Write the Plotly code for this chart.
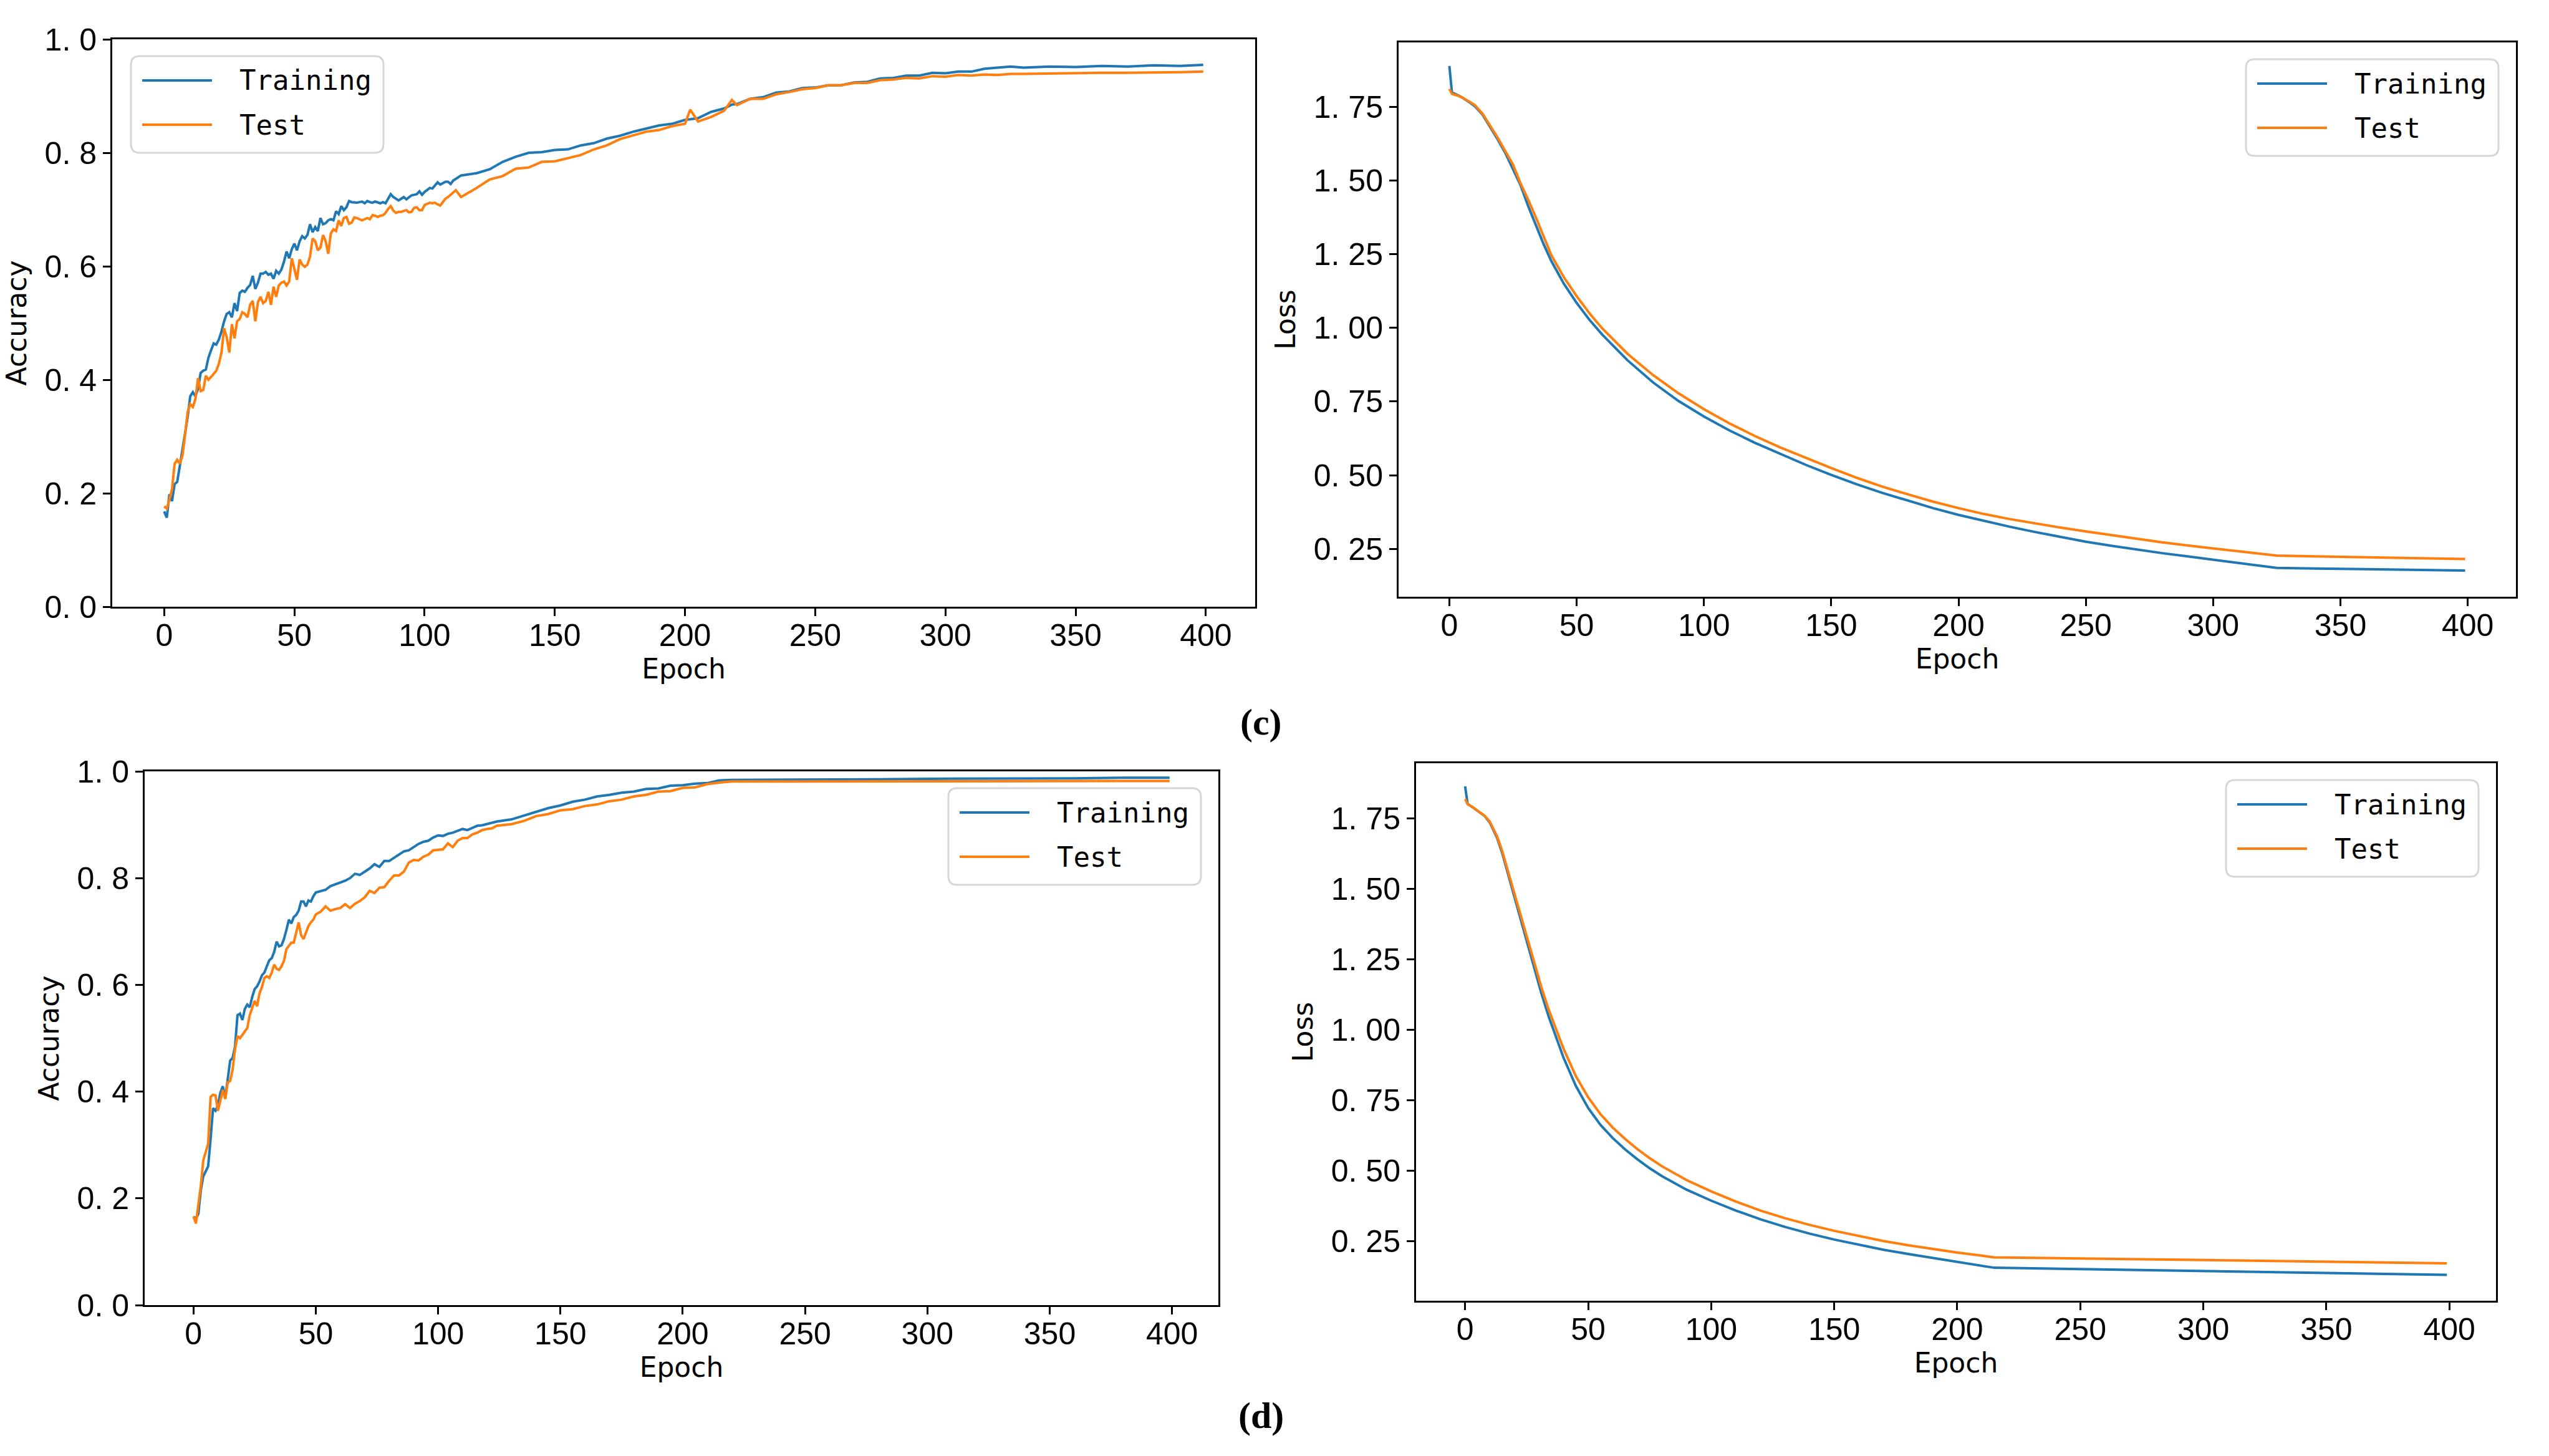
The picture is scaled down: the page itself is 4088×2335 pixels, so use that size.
import plotly.graph_objects as go

W, H = 4088, 2335
BLUE = "#1f77b4"
ORANGE = "#ff7f0e"

# ---------------- (c) accuracy ----------------
acc_c_epoch = list(range(115)) + [
    120, 125, 130, 135, 140, 145, 150, 155, 160, 165,
    170, 175, 180, 185, 190, 195, 200, 202, 205, 210,
    215, 218, 220, 225, 230, 235, 240, 245, 250, 255,
    260, 265, 270, 275, 280, 285, 290, 295, 300, 305,
    310, 315, 320, 325, 330, 340, 350, 360, 370, 380,
    390, 399]
acc_c_train = [
    0.168, 0.157, 0.198, 0.186, 0.216, 0.220, 0.248, 0.275, 0.302, 0.334,
    0.371, 0.378, 0.371, 0.384, 0.412, 0.416, 0.418, 0.439, 0.452, 0.464,
    0.462, 0.471, 0.485, 0.503, 0.516, 0.519, 0.510, 0.535, 0.521, 0.553,
    0.557, 0.555, 0.562, 0.567, 0.583, 0.560, 0.571, 0.587, 0.587, 0.590,
    0.585, 0.587, 0.578, 0.592, 0.587, 0.594, 0.608, 0.626, 0.614, 0.630,
    0.640, 0.628, 0.644, 0.653, 0.649, 0.655, 0.674, 0.660, 0.669, 0.662,
    0.685, 0.674, 0.676, 0.681, 0.683, 0.681, 0.697, 0.692, 0.706, 0.699,
    0.704, 0.715, 0.713, 0.712, 0.712, 0.713, 0.714, 0.711, 0.715, 0.713,
    0.712, 0.714, 0.713, 0.711, 0.713, 0.711, 0.719, 0.727, 0.722, 0.719,
    0.716, 0.719, 0.722, 0.718, 0.721, 0.725, 0.726, 0.727, 0.732, 0.726,
    0.731, 0.734, 0.738, 0.737, 0.742, 0.748, 0.744, 0.747, 0.749, 0.749,
    0.745, 0.751, 0.754, 0.757, 0.760,
    0.764, 0.771, 0.784, 0.793, 0.800, 0.801, 0.805, 0.806, 0.813, 0.817,
    0.825, 0.830, 0.837, 0.842, 0.848, 0.851, 0.858, 0.859, 0.861, 0.872,
    0.878, 0.885, 0.886, 0.895, 0.898, 0.906, 0.908, 0.914, 0.915, 0.919,
    0.919, 0.924, 0.925, 0.931, 0.932, 0.936, 0.936, 0.941, 0.940, 0.943,
    0.943, 0.948, 0.950, 0.952, 0.950, 0.952, 0.951, 0.953, 0.952, 0.954,
    0.953, 0.955]
acc_c_test = [
    0.177, 0.173, 0.189, 0.207, 0.252, 0.259, 0.252, 0.266, 0.302, 0.343,
    0.357, 0.352, 0.366, 0.403, 0.380, 0.382, 0.407, 0.400, 0.405, 0.410,
    0.416, 0.428, 0.448, 0.491, 0.475, 0.448, 0.498, 0.473, 0.503, 0.507,
    0.519, 0.516, 0.510, 0.532, 0.539, 0.503, 0.537, 0.546, 0.535, 0.539,
    0.555, 0.532, 0.564, 0.546, 0.566, 0.571, 0.573, 0.566, 0.573, 0.614,
    0.594, 0.576, 0.612, 0.603, 0.599, 0.603, 0.617, 0.649, 0.644, 0.628,
    0.633, 0.655, 0.644, 0.622, 0.658, 0.665, 0.662, 0.681, 0.671, 0.685,
    0.687, 0.675, 0.677, 0.686, 0.685, 0.683, 0.681, 0.683, 0.685, 0.683,
    0.690, 0.689, 0.687, 0.689, 0.690, 0.694, 0.701, 0.706, 0.698, 0.694,
    0.696, 0.696, 0.698, 0.699, 0.695, 0.696, 0.703, 0.704, 0.699, 0.699,
    0.708, 0.710, 0.712, 0.711, 0.712, 0.709, 0.707, 0.713, 0.719, 0.722,
    0.726, 0.730, 0.734, 0.728, 0.722,
    0.738, 0.753, 0.759, 0.772, 0.774, 0.784, 0.785, 0.791, 0.796, 0.806,
    0.813, 0.824, 0.830, 0.837, 0.840, 0.847, 0.851, 0.876, 0.855, 0.863,
    0.874, 0.893, 0.884, 0.895, 0.895, 0.903, 0.907, 0.912, 0.914, 0.919,
    0.919, 0.923, 0.923, 0.928, 0.929, 0.932, 0.931, 0.935, 0.934, 0.937,
    0.936, 0.938, 0.937, 0.939, 0.939, 0.940, 0.941, 0.941, 0.941, 0.941,
    0.942, 0.943]

# ---------------- (c) loss ----------------
loss_c_epoch = [
    0, 1, 3, 5, 8, 10, 13, 16, 19, 22,
    25, 28, 31, 34, 37, 40, 45, 50, 55, 60,
    70, 80, 90, 100, 110, 120, 130, 140, 150, 160,
    170, 180, 190, 200, 210, 220, 230, 240, 250, 260,
    270, 280, 290, 300, 310, 320, 325, 340, 360, 380,
    399]
loss_c_train = [
    1.890, 1.800, 1.792, 1.783, 1.766, 1.753, 1.725, 1.683, 1.640, 1.594,
    1.540, 1.484, 1.413, 1.350, 1.285, 1.228, 1.150, 1.085, 1.028, 0.978,
    0.890, 0.815, 0.752, 0.699, 0.652, 0.610, 0.572, 0.535, 0.501, 0.469,
    0.440, 0.413, 0.388, 0.365, 0.344, 0.325, 0.307, 0.290, 0.274, 0.260,
    0.247, 0.235, 0.224, 0.213, 0.202, 0.191, 0.185, 0.183, 0.181, 0.178,
    0.176]
loss_c_test = [
    1.812, 1.795, 1.790, 1.783, 1.768, 1.757, 1.728, 1.688, 1.646, 1.600,
    1.555, 1.490, 1.435, 1.375, 1.310, 1.248, 1.172, 1.108, 1.050, 0.999,
    0.912, 0.840, 0.778, 0.724, 0.676, 0.633, 0.594, 0.558, 0.524, 0.491,
    0.461, 0.435, 0.410, 0.388, 0.368, 0.351, 0.336, 0.322, 0.309, 0.296,
    0.284, 0.272, 0.261, 0.251, 0.240, 0.231, 0.227, 0.224, 0.221, 0.218,
    0.215]

# ---------------- (d) accuracy ----------------
acc_d_epoch = list(range(51)) + list(range(52, 125, 2)) + [
    130, 135, 140, 145, 150, 155, 160, 165, 170, 175,
    180, 185, 190, 195, 200, 205, 210, 215,
    220, 240, 260, 280, 300, 320, 340, 360, 380, 399]
acc_d_train = [
    0.166, 0.162, 0.171, 0.215, 0.241, 0.250, 0.260, 0.311, 0.369, 0.364,
    0.374, 0.398, 0.410, 0.388, 0.423, 0.458, 0.463, 0.485, 0.543, 0.546,
    0.534, 0.555, 0.563, 0.558, 0.577, 0.592, 0.597, 0.606, 0.618, 0.623,
    0.635, 0.646, 0.650, 0.662, 0.681, 0.672, 0.674, 0.686, 0.703, 0.722,
    0.715, 0.727, 0.731, 0.739, 0.756, 0.756, 0.747, 0.758, 0.756, 0.766,
    0.773,
    0.776, 0.778, 0.785, 0.788, 0.791, 0.795, 0.800, 0.808, 0.806, 0.812,
    0.818, 0.826, 0.821, 0.832, 0.832, 0.838, 0.844, 0.850, 0.852, 0.858,
    0.864, 0.868, 0.870, 0.876, 0.880, 0.879, 0.883, 0.885, 0.888, 0.892,
    0.890, 0.894, 0.898, 0.899, 0.901, 0.904, 0.906,
    0.910, 0.917, 0.923, 0.931, 0.936, 0.943, 0.947, 0.953, 0.956, 0.960,
    0.962, 0.967, 0.968, 0.973, 0.974, 0.977, 0.978, 0.983,
    0.984, 0.984, 0.985, 0.985, 0.986, 0.986, 0.987, 0.987, 0.988, 0.988]
acc_d_test = [
    0.166, 0.153, 0.188, 0.223, 0.271, 0.287, 0.302, 0.390, 0.394, 0.393,
    0.364, 0.383, 0.403, 0.386, 0.417, 0.420, 0.441, 0.480, 0.504, 0.500,
    0.507, 0.514, 0.519, 0.543, 0.555, 0.570, 0.560, 0.584, 0.596, 0.613,
    0.616, 0.613, 0.623, 0.638, 0.630, 0.628, 0.635, 0.645, 0.667, 0.674,
    0.679, 0.679, 0.698, 0.717, 0.693, 0.686, 0.698, 0.710, 0.717, 0.722,
    0.732,
    0.737, 0.747, 0.739, 0.742, 0.744, 0.751, 0.744, 0.752, 0.757, 0.764,
    0.776, 0.772, 0.782, 0.783, 0.795, 0.805, 0.805, 0.812, 0.829, 0.834,
    0.833, 0.840, 0.844, 0.852, 0.853, 0.854, 0.865, 0.858, 0.870, 0.875,
    0.875, 0.882, 0.885, 0.890, 0.892, 0.893, 0.898,
    0.901, 0.907, 0.916, 0.920, 0.927, 0.929, 0.935, 0.938, 0.944, 0.947,
    0.953, 0.956, 0.962, 0.963, 0.969, 0.970, 0.976, 0.979,
    0.981, 0.981, 0.981, 0.982, 0.982, 0.982, 0.982, 0.982, 0.982, 0.982]

# ---------------- (d) loss ----------------
loss_d_epoch = [
    0, 1, 3, 5, 8, 10, 13, 15, 18, 20,
    23, 25, 28, 31, 34, 37, 40, 45, 50, 55,
    60, 65, 70, 75, 80, 90, 100, 110, 120, 130,
    140, 150, 160, 170, 180, 190, 200, 210, 215, 250,
    300, 350, 399]
loss_d_train = [
    1.863, 1.801, 1.789, 1.777, 1.757, 1.735, 1.680, 1.628, 1.535, 1.470,
    1.380, 1.318, 1.220, 1.128, 1.045, 0.970, 0.900, 0.800, 0.722, 0.662,
    0.615, 0.575, 0.540, 0.508, 0.480, 0.432, 0.393, 0.358, 0.327, 0.300,
    0.276, 0.255, 0.236, 0.219, 0.204, 0.190, 0.177, 0.164, 0.155, 0.150,
    0.143, 0.136, 0.130]
loss_d_test = [
    1.818, 1.800, 1.790, 1.778, 1.758, 1.738, 1.685, 1.635, 1.545, 1.482,
    1.395, 1.335, 1.240, 1.150, 1.070, 0.998, 0.932, 0.835, 0.760, 0.700,
    0.652, 0.612, 0.576, 0.544, 0.515, 0.466, 0.426, 0.390, 0.358, 0.331,
    0.307, 0.286, 0.267, 0.250, 0.235, 0.221, 0.209, 0.198, 0.192, 0.188,
    0.183, 0.177, 0.171]

# tick labels
epoch_ticks = [0, 50, 100, 150, 200, 250, 300, 350, 400]
acc_ticks = [0.0, 0.2, 0.4, 0.6, 0.8, 1.0]
acc_ticktext = ["0. 0", "0. 2", "0. 4", "0. 6", "0. 8", "1. 0"]
loss_ticks = [0.25, 0.50, 0.75, 1.00, 1.25, 1.50, 1.75]
loss_ticktext = ["0. 25", "0. 50", "0. 75", "1. 00", "1. 25", "1. 50", "1. 75"]

TICK_FONT = dict(family="Liberation Sans, Arial, sans-serif", size=50, color="black")
TITLE_FONT = dict(family="DejaVu Sans", size=44, color="black")
LEGEND_FONT = dict(family="DejaVu Sans Mono", size=44, color="black")

# panels: pixel box (left, top, right, bottom), data, axis setup
panels = [
    dict(box=(180, 63, 2013, 973), x=acc_c_epoch, train=acc_c_train, test=acc_c_test,
         ytitle="Accuracy", yrange=[0, 1], yticks=acc_ticks, ytext=acc_ticktext, leg="left"),
    dict(box=(2243, 68, 4035, 957), x=loss_c_epoch, train=loss_c_train, test=loss_c_test,
         ytitle="Loss", yrange=[0.087, 1.97], yticks=loss_ticks, ytext=loss_ticktext, leg="right"),
    dict(box=(232, 1237, 1954, 2093), x=acc_d_epoch, train=acc_d_train, test=acc_d_test,
         ytitle="Accuracy", yrange=[0, 1], yticks=acc_ticks, ytext=acc_ticktext, leg="right"),
    dict(box=(2271, 1224, 4003, 2086), x=loss_d_epoch, train=loss_d_train, test=loss_d_test,
         ytitle="Loss", yrange=[0.038, 1.945], yticks=loss_ticks, ytext=loss_ticktext, leg="right"),
]

fig = go.Figure()
shapes = []
annotations = []


def legend_items(k, box, side):
    left, top, right, bottom = box
    w, h = right - left, bottom - top
    leg_w, leg_h, r = 405, 155, 14
    bx0 = left + 30 if side == "left" else right - 28 - leg_w
    by0 = top + 27

    def fx(px):
        return (px - left) / w

    def fy(py):
        return 1 - (py - top) / h

    xr = "x domain" if k == 1 else f"x{k} domain"
    yr = "y domain" if k == 1 else f"y{k} domain"
    x0, x1 = fx(bx0), fx(bx0 + leg_w)
    y1, y0 = fy(by0), fy(by0 + leg_h)
    rx, ry = r / w, r / h
    path = (f"M{x0 + rx},{y1} L{x1 - rx},{y1} Q{x1},{y1} {x1},{y1 - ry} "
            f"L{x1},{y0 + ry} Q{x1},{y0} {x1 - rx},{y0} L{x0 + rx},{y0} "
            f"Q{x0},{y0} {x0},{y0 + ry} L{x0},{y1 - ry} Q{x0},{y1} {x0 + rx},{y1} Z")
    shapes.append(dict(type="path", path=path, xref=xr, yref=yr,
                       fillcolor="white", line=dict(color="#d6d6d6", width=3)))
    for name, color, dy in [("Training", BLUE, 39), ("Test", ORANGE, 110)]:
        yy = fy(by0 + dy)
        shapes.append(dict(type="line", xref=xr, yref=yr,
                           x0=fx(bx0 + 18), x1=fx(bx0 + 130), y0=yy, y1=yy,
                           line=dict(color=color, width=4)))
        annotations.append(dict(text=name, xref=xr, yref=yr, x=fx(bx0 + 172), y=yy,
                                xanchor="left", yanchor="middle", showarrow=False,
                                font=LEGEND_FONT))


layout_axes = {}
for k, p in enumerate(panels, start=1):
    left, top, right, bottom = p["box"]
    xs = "x" if k == 1 else f"x{k}"
    ys = "y" if k == 1 else f"y{k}"
    fig.add_trace(go.Scatter(x=p["x"], y=p["train"], mode="lines", name="Training",
                             line=dict(color=BLUE, width=4), xaxis=xs, yaxis=ys,
                             showlegend=False))
    fig.add_trace(go.Scatter(x=p["x"], y=p["test"], mode="lines", name="Test",
                             line=dict(color=ORANGE, width=4), xaxis=xs, yaxis=ys,
                             showlegend=False))
    common = dict(showline=True, mirror=True, linecolor="black", linewidth=3,
                  ticks="outside", ticklen=12, tickwidth=3, tickcolor="black",
                  showgrid=False, zeroline=False, tickfont=TICK_FONT, automargin=False)
    layout_axes["xaxis" if k == 1 else f"xaxis{k}"] = dict(
        domain=[left / W, right / W], anchor=ys, range=[-19.95, 418.95],
        tickvals=epoch_ticks, ticklabelstandoff=-12,
        title=dict(text="Epoch", font=TITLE_FONT, standoff=8), **common)
    layout_axes["yaxis" if k == 1 else f"yaxis{k}"] = dict(
        domain=[1 - bottom / H, 1 - top / H], anchor=xs, range=p["yrange"],
        tickvals=p["yticks"], ticktext=p["ytext"],
        title=dict(text=p["ytitle"], font=TITLE_FONT, standoff=16), **common)
    legend_items(k, p["box"], p["leg"])

for label, py in [("(c)", 1158), ("(d)", 2270)]:
    annotations.append(dict(text=f"<b>{label}</b>", xref="paper", yref="paper",
                            x=2022 / W, y=1 - py / H, xanchor="center", yanchor="middle",
                            showarrow=False,
                            font=dict(family="Liberation Serif", size=60, color="black")))

fig.update_layout(width=W, height=H, autosize=False,
                  margin=dict(l=0, r=0, t=0, b=0, pad=0),
                  paper_bgcolor="white", plot_bgcolor="white",
                  shapes=shapes, annotations=annotations, **layout_axes)

fig.write_html("out.html", config={"displayModeBar": False},
               post_script="document.body.style.margin = '0';")
